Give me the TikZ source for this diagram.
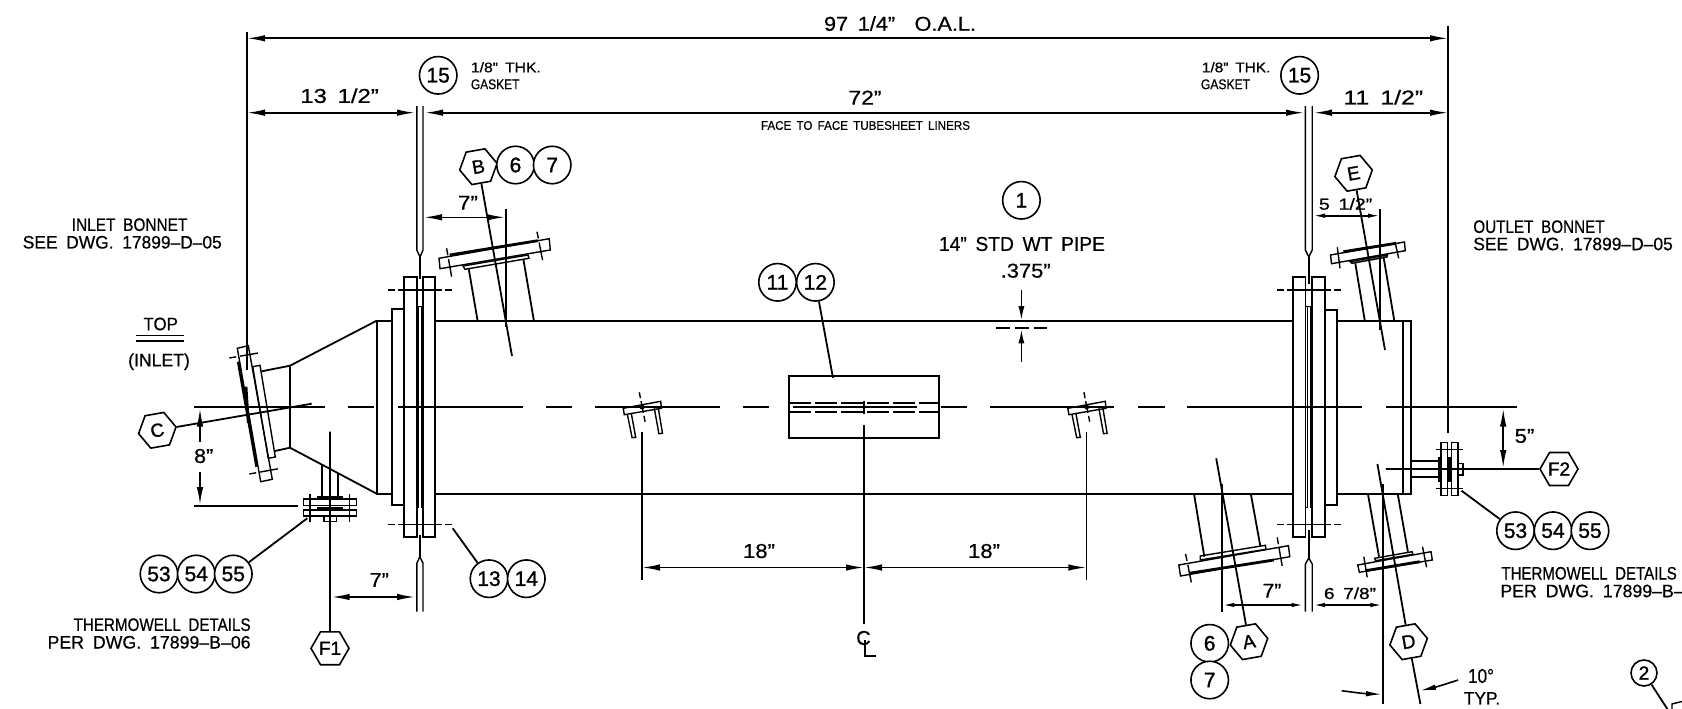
\documentclass[tikz,border=0pt]{standalone}
\usepackage{graphicx}
\usepackage{fontspec}
\setmainfont{Liberation Sans}[FakeBold=0.6]
\newfontfamily\ballfont{Liberation Sans}[FakeBold=1.2]
\usetikzlibrary{arrows.meta,shapes.geometric}
\newcommand\fbig{\fontsize{18}{20}\selectfont\spaceskip=0.5em\relax}
\newcommand\fdim{\fontsize{20}{22}\selectfont\spaceskip=0.45em\relax}
\newcommand\fsmall{\fontsize{14}{15}\selectfont\spaceskip=0.45em\relax}
\newcommand\fmini{\fontsize{12.5}{14}\selectfont\spaceskip=0.45em\relax}
\newcommand\fmid{\fontsize{16}{16}\selectfont\spaceskip=0.45em\relax}
\newcommand\tw[2]{\resizebox{#1pt}{\height}{#2}}
\tikzset{
  x=1pt,y=-1pt,
  big/.style={inner sep=0pt,font=\fbig},
  dimt/.style={inner sep=0pt,font=\fdim},
  small/.style={inner sep=0pt,font=\fsmall},
  mini/.style={inner sep=0pt,font=\fmini},
  midt/.style={inner sep=0pt,font=\fmid},
  ball/.style={circle,draw,fill=white,inner sep=0pt,minimum size=37.5pt,line width=1.6pt,font=\ballfont\fontsize{21}{22}\selectfont},
  hexa/.style={regular polygon,regular polygon sides=6,draw,fill=white,inner sep=0pt,minimum size=38pt,line width=1.6pt,font=\ballfont\fontsize{19}{20}\selectfont},
  tilt/.style={rotate=10},
  hexlr/.style={},
  dimm/.style={{Latex[length=18pt,width=6.5pt]}-{Latex[length=18pt,width=6.5pt]},line width=1.6pt},
  dimr/.style={-{Latex[length=18pt,width=6.5pt]},line width=1.6pt},
  dims/.style={{Latex[length=12pt,width=4.5pt]}-{Latex[length=12pt,width=4.5pt]},line width=1.6pt},
  thin part/.style={line width=1.4pt},
  hair part/.style={line width=1pt},
  thick part/.style={line width=2.8pt},
  bolt/.style={dash pattern=on 6.7pt off 3pt on 44pt off 3.3pt,line width=1.4pt},
  boltd/.style={dash pattern=on 7pt off 4pt on 18pt off 4pt,line width=1.4pt},
}
\begin{document}
\begin{tikzpicture}[line width=1.8pt]
\useasboundingbox (0,0) rectangle (1682,709);
\clip (0,0) rectangle (1682,709);

% centre line
\foreach \a/\b in {194/325,348/374,397.7/522.7,546/571.7,595/719.6,743/769,941/967,990/1114,1138/1164.6,1187/1362,1386/1516.5}
  \draw (\a,407) -- (\b,407);

% extension lines
\draw (247,32) -- (247,370);
\draw (1448,26) -- (1448,433);

% vessel body
\draw (435,320.7) -- (1293.2,320.7);
\draw (435,493.7) -- (1293.2,493.7);
\draw (1337,320.7) -- (1411.3,320.7) -- (1411.3,493.7) -- (1337,493.7);
\draw (1402.8,320.7) -- (1402.8,493.7);

% left shell flange group
\draw (403.7,537) rectangle (416.8,277);
\draw (423,537) rectangle (435,277);
\draw (404,504.7) -- (391.7,504.7) -- (391.7,309.3) -- (404,309.3);
\draw (391.7,320.7) -- (376.7,320.7) -- (376.7,493.7) -- (391.7,493.7);
\draw[hair part] (416.8,306) -- (423,306);
\draw[hair part] (418.6,306) -- (418.6,507.7) -- (416.8,507.7);
\draw[hair part] (421,306) -- (421,507.7) -- (423,507.7);
\draw[bolt] (388.4,290) -- (451.6,290);
\draw[bolt] (388.4,524.7) -- (451.6,524.7);
% gasket left
\draw[thin part] (416.8,106) -- (416.8,250) -- (420,257) -- (423,250) -- (423,106);
\draw (420,257) -- (420,279);
\draw (419.6,535) -- (419.6,556.7);
\draw[thin part] (416.8,611.7) -- (416.8,563.3) -- (419.8,556.7) -- (423,563.3) -- (423,611.7);

% right shell flange group
\draw (1293.2,537.3) rectangle (1305.4,277.3);
\draw (1312.2,537.3) rectangle (1324.8,277.3);
\draw (1324.8,504.7) -- (1337,504.7) -- (1337,309.7) -- (1324.8,309.7);
\draw[hair part] (1305.4,306) -- (1312.2,306);
\draw[hair part] (1307.6,306) -- (1307.6,507.7) -- (1305.4,507.7);
\draw[hair part] (1310,306) -- (1310,507.7) -- (1312.2,507.7);
\draw[bolt] (1277.2,290) -- (1340.7,290);
\draw[bolt] (1277.2,524.5) -- (1340.7,524.5);
% gasket right
\draw[thin part] (1305.4,106) -- (1305.4,250) -- (1308.8,257) -- (1312.2,250) -- (1312.2,106);
\draw (1308.8,257) -- (1308.8,284);
\draw (1308.8,530) -- (1308.8,558);
\draw[thin part] (1305.4,611.7) -- (1305.4,564) -- (1308.8,558) -- (1312.2,564) -- (1312.2,611.7);

% inlet bonnet
\draw (376.7,320.7) -- (290,365.7) -- (290,447.7) -- (376.7,493.7);
\draw (290,365.7) -- (261.7,371.3);
\draw (290,447.7) -- (275,451);
\draw[thin part] (252.7,366.7) -- (260,365.3) -- (275.3,457) -- (268.3,458.3) -- cycle;
\draw[thin part] (237.3,348.3) -- (248.3,345.7) -- (272.3,479.3) -- (260.7,481.7) -- cycle;
\draw[thick part] (238.3,361.7) -- (256.7,466.7);
\draw[thick part] (246,386.7) -- (248.3,423);
\draw[boltd] (229.3,358) -- (260,352.7);
\draw[boltd] (249.3,474) -- (280.7,468.3);

% nozzle B
\draw (468.8,269.3) -- (477.6,320.7);
\draw (523.5,260) -- (533.9,320.7);
\draw[thin part] (439,258.3) -- (549.2,238.7) -- (550.3,250) -- (440,268.7) -- cycle;
\draw[thick part] (449.7,255) -- (537.7,240.7);
\draw[thin part] (463,266) -- (528,255) -- (529,258.3) -- (465,269.3) -- cycle;
\draw[boltd] (446.6,248.3) -- (451.6,276.7);
\draw[boltd] (537,231.7) -- (542.7,260.7);

% nozzle E
\draw (1355.3,263.3) -- (1364.8,320.7);
\draw (1383.5,256.7) -- (1394.3,320.7);
\draw[thin part] (1330.5,255) -- (1404.5,242) -- (1405.2,250.7) -- (1331.5,263.7) -- cycle;
\draw[thick part] (1343.4,251.7) -- (1396,243.3);
\draw[thin part] (1350.2,261.7) -- (1387.5,255) -- (1387,257) -- (1352,263.3) -- cycle;
\draw[thin part] (1337.3,247.3) -- (1340,268.3);
\draw[thin part] (1395,242) -- (1398.7,258.3);

% nozzle A
\draw (1194,493.7) -- (1204.3,556.7);
\draw (1250.8,493.7) -- (1260.3,546);
\draw[thin part] (1178.8,565) -- (1288.4,545.7) -- (1289.8,556.7) -- (1180.5,576) -- cycle;
\draw[thick part] (1189,573.3) -- (1273.9,560);
\draw[thin part] (1200.2,556) -- (1265.4,545.3) -- (1266,549.3) -- (1200.2,560) -- cycle;
\draw[boltd] (1185.6,554) -- (1191.4,582.7);
\draw[boltd] (1277.2,537.3) -- (1282.3,566.7);

% nozzle D
\draw (1367.9,493.7) -- (1379,556.7);
\draw (1397.7,493.7) -- (1407.9,551.7);
\draw[thin part] (1357.7,565) -- (1431,551.7) -- (1432.3,560) -- (1359.4,572.3) -- cycle;
\draw[thick part] (1365.5,570.7) -- (1419.8,561.7);
\draw[thin part] (1374.6,558.3) -- (1412,551.7) -- (1413,554.3) -- (1375.7,560.7) -- cycle;
\draw[thin part] (1363.8,556.7) -- (1367.2,577.3);
\draw[thin part] (1422.5,546.7) -- (1426.6,567.3);

% nozzle F1
\draw (322.3,465) -- (322.3,497.7);
\draw (338.3,472.7) -- (338.3,497.7);
\draw[thick part] (317.3,497.7) -- (343.3,497.7);
\draw[thin part] (303.3,499) rectangle (356.7,505.7);
\draw[thin part] (303.3,510) rectangle (356.7,516);
\draw[line width=2pt] (317.3,508) -- (343.3,508);
\draw[thin part] (324,516) rectangle (336.7,521.7);
\draw[thin part] (310,494.3) -- (310,521.7);
\draw[thin part] (349.3,494.3) -- (349.3,521.7);

% nozzle F2
\draw (1411.3,460.7) -- (1438.4,460.7);
\draw (1411.3,477.3) -- (1438.4,477.3);
\draw[thick part] (1439,457.3) -- (1439,481.7);
\draw[thick part] (1449.5,457) -- (1449.5,481.7);
\draw[thin part] (1440.8,442.7) rectangle (1447.2,495.7);
\draw[thin part] (1451.7,442.7) rectangle (1458,495.7);
\draw[thin part] (1458,463.3) rectangle (1462.9,475);
\draw[thin part] (1436,449.3) -- (1463,449.3);
\draw[thin part] (1436,488.3) -- (1463,488.3);

% pipe support shoes
\foreach \dx in {0,444.6} {
  \begin{scope}[xshift=\dx pt]
  \draw[thin part] (623.2,408.3) -- (660.7,401.3) -- (661.4,408.3) -- (624.3,414.7) -- cycle;
  \draw[thin part] (627.5,415) -- (632.1,437.7) -- (635.7,437.3) -- (631.4,414);
  \draw[thin part] (654.3,408.3) -- (658.9,433.7) -- (662.5,433.3) -- (658.2,407.7);
  \draw[thin part,dash pattern=on 6pt off 3pt on 12pt off 3pt] (639.3,392.3) -- (645.4,423.3);
  \fill (642.1,407) circle (2.5pt);
  \end{scope}
}

% wear plate
\draw (789,376.3) rectangle (938.6,438.3);
\draw[dash pattern=on 22pt off 4pt] (789,402.7) -- (938.6,402.7);
\draw[dash pattern=on 22pt off 4pt] (789,412) -- (938.6,412);
\draw[thin part] (793,407) -- (917,407);
\draw (864,400.7) -- (864,414);

% wall thickness mark
\draw[dash pattern=on 14pt off 5pt] (996.4,328.3) -- (1047,328.3);
\coordinate (wallt) at (1021.4,320.2);
\coordinate (wallb) at (1021.4,329.4);
\coordinate (wallta) at (1021.4,290);
\coordinate (wallba) at (1021.4,361.7);
\draw[-{Latex[length=14pt,width=6pt]},line width=1.6pt] (wallta) -- (wallt);
\draw[-{Latex[length=14pt,width=6pt]},line width=1.6pt] (wallba) -- (wallb);

% dimensions
\coordinate (oalL) at (247,38.3); \coordinate (oalR) at (1448,38.3);
\draw[dimm] (oalL) -- (oalR);
\coordinate (a1) at (247,112.7); \coordinate (a2) at (415,112.7);
\coordinate (a3) at (425,112.7); \coordinate (a4) at (1304,112.7);
\coordinate (a5) at (1314,112.7); \coordinate (a6) at (1448,112.7);
\draw[dimm] (a1) -- (a2);
\draw[dimm] (a3) -- (a4);
\draw[dimm] (a5) -- (a6);
\coordinate (b1) at (424,217.3); \coordinate (b2) at (505,217.3);
\draw[dimm] (b1) -- (b2);
\draw (506,209.3) -- (506,327);
\coordinate (e1) at (1313,215.7); \coordinate (e2) at (1380,215.7);
\draw[dims] (e1) -- (e2);
\draw (1380,209.3) -- (1380,330);
\coordinate (f1a) at (331.7,597); \coordinate (f1b) at (415,597);
\draw[dimm] (f1a) -- (f1b);
\coordinate (s1) at (642,567.5); \coordinate (s2) at (864,567.5); \coordinate (s3) at (1086.4,567.5);
\draw[dimm] (s1) -- (s2);
\draw[dimm] (s2) -- (s3);
\draw (641.8,431.7) -- (641.8,580);
\draw (1086.4,431.7) -- (1086.4,580);
\draw (864,425.3) -- (864,624);
\coordinate (a7a) at (1222.3,605); \coordinate (a7b) at (1303.5,605);
\draw[dims] (a7a) -- (a7b);
\coordinate (x7a) at (1313,605); \coordinate (x7b) at (1382.4,605);
\draw[dims] (x7a) -- (x7b);
\draw (1222.3,484) -- (1222.3,611.7);
\draw (1383,484) -- (1383,704);
% 8 inch
\draw (194,505.7) -- (298.3,505.7);
\coordinate (h8t) at (200,408.5); \coordinate (h8b) at (200,505);
\coordinate (h8m) at (200,441.7); \coordinate (h8n) at (200,471.7);
\draw[dimr] (h8m) -- (h8t);
\draw[dimr] (h8n) -- (h8b);
% 5 inch
\coordinate (f5t) at (1503.2,408.5); \coordinate (f5b) at (1503.2,468);
\draw[dimm] (f5t) -- (f5b);
% 10 degree
\coordinate (ta) at (1341.7,690.7); \coordinate (tb) at (1382,694.3);
\coordinate (tc) at (1458,680); \coordinate (td) at (1419.8,690.7);
\draw[-{Latex[length=16pt,width=5.5pt]},line width=1.6pt] (ta) to[bend right=3] (tb);
\draw[-{Latex[length=16pt,width=5.5pt]},line width=1.6pt] (tc) to[bend left=3] (td);

% balloons and hexagons
\coordinate (Le) at (1385,350);
\coordinate (Lb) at (512,356);
\coordinate (La) at (1216.2,458.3);
\coordinate (Ld) at (1377.4,464);
\coordinate (Ldd) at (1420.4,704);
\coordinate (Lc) at (311.7,403.7);
\coordinate (Lf1) at (330,431.7);
\coordinate (Lf2) at (1385.8,469);
\coordinate (L12) at (833,378);
\coordinate (L13) at (452.7,528.3);
\coordinate (L53) at (307.3,518.3);
\coordinate (L53r) at (1461.5,490.7);
\coordinate (L2) at (1668,710);

\node[hexa,tilt] (hB) at (478.4,166.7) {B};
\node[ball] (n6a) at (515.5,165) {6};
\node[ball] (n7a) at (552.2,165) {7};
\node[ball] (n15a) at (438.2,75.3) {15};
\node[ball] (n15b) at (1299.6,75.3) {15};
\node[hexa,tilt] (hE) at (1353.6,173.3) {E};
\node[ball] (n1) at (1021.4,200.3) {1};
\node[ball] (n11) at (777.5,282.3) {11};
\node[ball] (n12) at (815.4,282.3) {12};
\node[hexa,tilt] (hC) at (157.3,430.3) {C};
\node[ball] (n53a) at (159,574) {53};
\node[ball] (n54a) at (196.3,574) {54};
\node[ball] (n55a) at (233.3,574) {55};
\node[ball] (n13) at (489,578.7) {13};
\node[ball] (n14) at (526.3,578.7) {14};
\node[hexa,hexlr] (hF1) at (330,648.3) {F1};
\node[hexa,hexlr] (hF2) at (1559,469) {F2};
\node[ball] (n53b) at (1515.5,530.7) {53};
\node[ball] (n54b) at (1553,530.7) {54};
\node[ball] (n55b) at (1590,530.7) {55};
\node[ball] (n6b) at (1209.7,643.3) {6};
\node[ball] (n7b) at (1209.7,680) {7};
\node[hexa,tilt] (hA) at (1249,641.7) {A};
\node[hexa,tilt] (hD) at (1408.6,641.7) {D};
\node[ball,minimum size=26pt,font=\ballfont\fontsize{19}{20}\selectfont] (n2) at (1644,673) {2};

\draw (Lb) -- (hB);
\draw (Le) -- (hE);
\draw (La) -- (hA);
\draw (Ld) -- (hD);
\draw (hD) -- (Ldd);
\draw (Lc) -- (hC);
\draw (Lf1) -- (hF1);
\draw (Lf2) -- (hF2);
\draw (n12) -- (L12);
\draw (n13) -- (L13);
\draw (n55a) -- (L53);
\draw (n53b) -- (L53r);
\draw (n2) -- (L2);
\draw[thin part] (1672,709) -- (1672,704) -- (1682,701.5);

% centre line symbol
\node[dimt] (cl) at (863.5,638) {C};
\draw (865,640) -- (865,656) -- (876,656);

% TOP marker
\node[big] (top) at (160.7,324) {\tw{34.4}{TOP}};
\draw[thin part] (136,335.7) -- (184,335.7);
\draw[thin part] (136,341) -- (184,341);
\node[big] (inlet) at (159,361.7) {\tw{61.7}{(INLET)}};

% texts
\node[dimt] (oal) at (900,23.6) {\tw{152}{97 1/4”~~O.A.L.}};
\node[dimt] (d13) at (339.6,95.7) {\tw{78.5}{13 1/2”}};
\node[dimt] (d72) at (865,97.6) {\tw{33}{72”}};
\node[dimt] (d11) at (1383.3,97.3) {\tw{79.7}{11 1/2”}};
\node[mini] (ff) at (865.5,125.5) {\tw{209}{FACE TO FACE TUBESHEET LINERS}};
\node[small,anchor=west] (tk1) at (470,67.3) {\tw{70}{1/8” THK.}};
\node[small,anchor=west] (gk1) at (470,84.3) {\tw{48.6}{GASKET}};
\node[small,anchor=west] (tk2) at (1201,67.3) {\tw{68.5}{1/8” THK.}};
\node[small,anchor=west] (gk2) at (1200,84.3) {\tw{49.2}{GASKET}};
\node[big,anchor=east] (ib1) at (188.3,224.7) {\tw{115.6}{INLET BONNET}};
\node[big,anchor=east] (ib2) at (222.7,242.3) {\tw{199}{SEE DWG. 17899–D–05}};
\node[big,anchor=west] (ob1) at (1472.4,226.7) {\tw{131.3}{OUTLET BONNET}};
\node[big,anchor=west] (ob2) at (1472.4,244) {\tw{199.5}{SEE DWG. 17899–D–05}};
\node[dimt] (t7a) at (468,202.7) {\tw{20}{7”}};
\node[midt] (t5) at (1345.6,204) {\tw{53.3}{5 1/2”}};
\node[dimt] (pipe) at (1022,244) {\tw{166}{14” STD WT PIPE}};
\node[dimt] (wt) at (1025.7,270.7) {\tw{50}{.375”}};
\node[dimt] (t8) at (203.7,456) {\tw{19.3}{8”}};
\node[dimt] (t5b) at (1524.5,436) {\tw{19.7}{5”}};
\node[dimt] (t7b) at (379.3,580) {\tw{19.3}{7”}};
\node[dimt] (t18a) at (759,551) {\tw{32}{18”}};
\node[dimt] (t18b) at (984,551) {\tw{32}{18”}};
\node[dimt] (t7c) at (1272,590.7) {\tw{18.7}{7”}};
\node[midt] (t678) at (1350,593.3) {\tw{52}{6 7/8”}};
\node[big,anchor=east] (tw1) at (251.5,624.7) {\tw{177}{THERMOWELL DETAILS}};
\node[big,anchor=east] (tw2) at (251.5,642.3) {\tw{203}{PER DWG. 17899–B–06}};
\node[big,anchor=west] (tw3) at (1500.5,573.3) {\tw{175.4}{THERMOWELL DETAILS}};
\node[big,anchor=west] (tw4) at (1499.5,591) {\tw{203}{PER DWG. 17899–B–06}};
\node[dimt] (deg) at (1481,676) {\tw{26}{10°}};
\node[big] (typ) at (1482,698.3) {\tw{36.3}{TYP.}};
\end{tikzpicture}
\end{document}
